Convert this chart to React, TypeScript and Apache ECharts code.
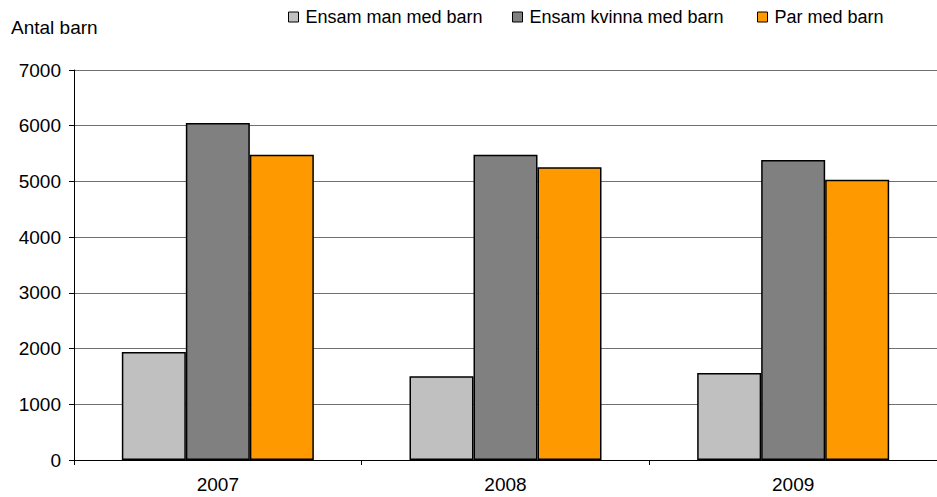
import React, { useEffect, useRef } from "react";
import * as echarts from "echarts";

const categories = ["2007", "2008", "2009"];
const seriesNames = ["Ensam man med barn", "Ensam kvinna med barn", "Par med barn"];
const manValues = [1940, 1505, 1560];
const womanValues = [6050, 5480, 5385];
const parValues = [5480, 5255, 5030];
const colors = ["#C0C0C0", "#808080", "#FF9900"];
const yTicks = { min: 0, max: 7000, interval: 1000 };

const FONT = "'Liberation Sans', Arial, sans-serif";

export default function App() {
  const ref = useRef<HTMLDivElement>(null);
  useEffect(() => {
    if (!ref.current) return;
    const chart = echarts.init(ref.current, null, { renderer: "svg" });
    const values = [manValues, womanValues, parValues];
    const legendLefts = [288, 512, 757];
    chart.setOption({
      animation: false,
      backgroundColor: "#ffffff",
      textStyle: { fontFamily: FONT, color: "#000" },
      grid: { left: 74, right: 0, top: 70, bottom: 37, containLabel: false },
      legend: seriesNames.map((n, i) => ({
        data: [n],
        left: legendLefts[i],
        top: 8,
        padding: 0,
        itemWidth: 10,
        itemHeight: 10,
        icon: "rect",
        itemStyle: { borderColor: "#000", borderWidth: 1 },
        textStyle: { fontFamily: FONT, fontSize: 18, color: "#000", padding: [0, 0, 0, 2] },
        selectedMode: false,
      })),
      graphic: [
        {
          type: "text",
          left: 11,
          top: 18,
          style: { text: "Antal barn", fontFamily: FONT, fontSize: 19, fill: "#000" },
        },
      ],
      xAxis: {
        type: "category",
        data: categories,
        boundaryGap: true,
        axisLine: { show: true, lineStyle: { color: "#000", width: 1 } },
        axisTick: { show: true, length: 5, lineStyle: { color: "#000" } },
        axisLabel: { fontFamily: FONT, fontSize: 19, color: "#000", margin: 15 },
        splitLine: { show: false },
      },
      yAxis: {
        type: "value",
        min: yTicks.min,
        max: yTicks.max,
        interval: yTicks.interval,
        axisLine: { show: true, lineStyle: { color: "#000", width: 1 } },
        axisTick: { show: true, length: 5, lineStyle: { color: "#000" } },
        axisLabel: {
          fontFamily: FONT,
          fontSize: 19,
          color: "#000",
          margin: 13,
          formatter: (v: number) => String(v),
        },
        splitLine: { show: true, lineStyle: { color: "#707070", width: 1 } },
      },
      series: seriesNames.map((n, i) => ({
        name: n,
        type: "bar",
        data: values[i],
        barWidth: 64,
        barGap: "0%",
        itemStyle: { color: colors[i], borderColor: "#000", borderWidth: 1.5 },
      })),
    });
    return () => chart.dispose();
  }, []);
  return (
    <div
      ref={ref}
      style={{ position: "absolute", left: 0, top: 0, width: 937, height: 497 }}
    />
  );
}
